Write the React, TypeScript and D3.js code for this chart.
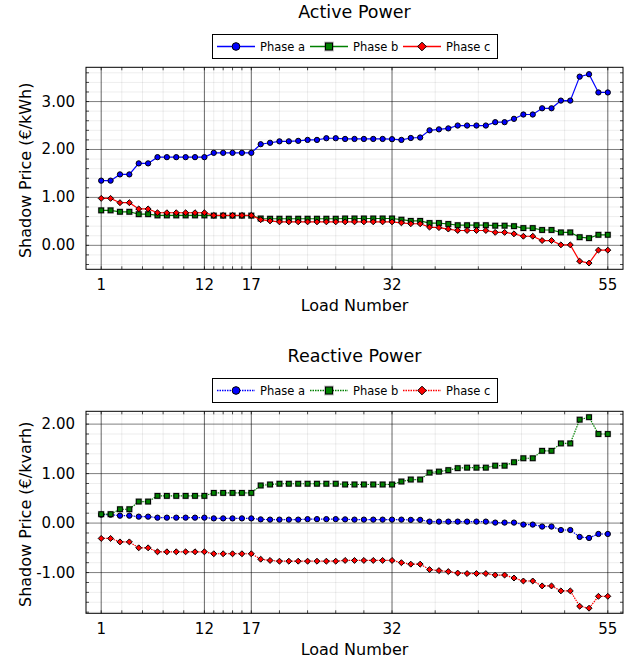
import React, { useEffect, useRef } from 'react';
import * as d3 from 'd3';

// load numbers on the x axis
const loads = d3.range(1, 56);
const xTicks = [1, 12, 17, 32, 55];
const phases = ['Phase a', 'Phase b', 'Phase c'];
const colors = ['#0000ff', '#008000', '#ff0000'];

// active power shadow prices (€/kWh)
const activeA = [1.35, 1.35, 1.48, 1.48, 1.71, 1.71, 1.84, 1.84, 1.84, 1.84, 1.84, 1.84,
  1.93, 1.93, 1.93, 1.93, 1.93, 2.11, 2.14, 2.17, 2.17, 2.18, 2.2, 2.2, 2.235, 2.235,
  2.22, 2.22, 2.22, 2.22, 2.22, 2.215, 2.2, 2.24, 2.25, 2.4, 2.42, 2.44, 2.5, 2.5, 2.5, 2.5,
  2.57, 2.57, 2.64, 2.73, 2.73, 2.86, 2.86, 3.02, 3.02, 3.52, 3.57, 3.19, 3.19];
const activeB = [0.73, 0.73, 0.7, 0.7, 0.65, 0.65, 0.625, 0.625, 0.625, 0.625, 0.625, 0.625,
  0.62, 0.62, 0.62, 0.62, 0.62, 0.56, 0.555, 0.555, 0.555, 0.555, 0.555, 0.555, 0.555, 0.555,
  0.56, 0.56, 0.56, 0.56, 0.56, 0.56, 0.535, 0.51, 0.51, 0.465, 0.465, 0.445, 0.42, 0.42, 0.42, 0.42,
  0.41, 0.41, 0.4, 0.36, 0.36, 0.32, 0.32, 0.27, 0.27, 0.17, 0.15, 0.22, 0.22];
const activeC = [0.98, 0.98, 0.89, 0.89, 0.76, 0.76, 0.68, 0.68, 0.68, 0.68, 0.68, 0.68,
  0.625, 0.625, 0.625, 0.625, 0.625, 0.535, 0.51, 0.49, 0.49, 0.49, 0.49, 0.49, 0.49, 0.49,
  0.49, 0.49, 0.49, 0.49, 0.49, 0.49, 0.47, 0.45, 0.45, 0.38, 0.37, 0.34, 0.31, 0.31, 0.31, 0.31,
  0.27, 0.27, 0.24, 0.19, 0.19, 0.1, 0.1, 0.01, 0.01, -0.33, -0.37, -0.1, -0.1];

// reactive power shadow prices (€/kvarh)
const reactiveA = [0.17, 0.17, 0.15, 0.15, 0.13, 0.13, 0.11, 0.11, 0.11, 0.11, 0.11, 0.11,
  0.095, 0.095, 0.095, 0.095, 0.095, 0.075, 0.07, 0.07, 0.07, 0.07, 0.08, 0.08, 0.08, 0.08,
  0.075, 0.07, 0.07, 0.07, 0.07, 0.07, 0.07, 0.065, 0.065, 0.03, 0.03, 0.03, 0.03, 0.03, 0.03, 0.03,
  0.01, 0.01, 0.01, -0.03, -0.03, -0.07, -0.07, -0.14, -0.14, -0.28, -0.3, -0.22, -0.22];
const reactiveB = [0.18, 0.18, 0.28, 0.28, 0.435, 0.435, 0.55, 0.55, 0.55, 0.55, 0.55, 0.55,
  0.61, 0.61, 0.61, 0.61, 0.61, 0.76, 0.78, 0.795, 0.795, 0.795, 0.795, 0.795, 0.795, 0.795,
  0.78, 0.78, 0.78, 0.78, 0.78, 0.78, 0.84, 0.88, 0.88, 1.02, 1.04, 1.07, 1.11, 1.12, 1.12, 1.12,
  1.16, 1.16, 1.23, 1.31, 1.31, 1.46, 1.46, 1.61, 1.61, 2.09, 2.14, 1.8, 1.8];
const reactiveC = [-0.31, -0.31, -0.38, -0.38, -0.5, -0.5, -0.58, -0.58, -0.58, -0.58, -0.58, -0.58,
  -0.62, -0.62, -0.62, -0.62, -0.62, -0.73, -0.755, -0.77, -0.77, -0.77, -0.77, -0.77, -0.77, -0.77,
  -0.755, -0.755, -0.755, -0.755, -0.755, -0.755, -0.8, -0.83, -0.83, -0.94, -0.96, -0.98, -1.01, -1.02, -1.02, -1.02,
  -1.05, -1.05, -1.11, -1.17, -1.17, -1.27, -1.27, -1.37, -1.37, -1.68, -1.72, -1.48, -1.48];

const activeTicks = [0, 1, 2, 3];
const reactiveTicks = [-1, 0, 1, 2];

const FONT = 'DejaVu Sans, sans-serif';

function drawMarker(g, kind, cx, cy, s, color) {
  if (kind === 0) {
    g.append('circle').attr('cx', cx).attr('cy', cy).attr('r', s * 0.55)
      .attr('fill', color).attr('stroke', '#000').attr('stroke-width', 1);
  } else if (kind === 1) {
    g.append('rect').attr('x', cx - s * 0.7).attr('y', cy - s * 0.7)
      .attr('width', s * 1.4).attr('height', s * 1.4)
      .attr('fill', '#000').attr('opacity', 0.25);
    g.append('rect').attr('x', cx - s / 2).attr('y', cy - s / 2)
      .attr('width', s).attr('height', s)
      .attr('fill', color).attr('stroke', '#000').attr('stroke-width', 1);
  } else {
    const h = s * 0.62;
    g.append('path')
      .attr('d', `M${cx},${cy - h}L${cx + h},${cy}L${cx},${cy + h}L${cx - h},${cy}Z`)
      .attr('fill', color).attr('stroke', '#000').attr('stroke-width', 1);
  }
}

function plot(chart, opts) {
  const left = 86, right = 623, top = 67.3, bottom = 269.3;

  const x = d3.scaleLinear().domain([1 - 1.62, 55 + 1.62]).range([left, right]);
  const y = d3.scaleLinear().domain(opts.yDomain).range([bottom, top]);

  // minor grid: five divisions between major ticks
  const xMinor = [];
  for (let i = 0; i < xTicks.length - 1; i++) {
    const a = xTicks[i], b = xTicks[i + 1];
    for (let k = 1; k < 5; k++) xMinor.push(a + (b - a) * k / 5);
  }
  const yMinor = d3.range(Math.ceil(opts.yDomain[0] * 5), Math.floor(opts.yDomain[1] * 5) + 1)
    .map(d => d / 5)
    .filter(d => Math.abs(d - Math.round(d)) > 1e-6);

  chart.append('rect').attr('x', left).attr('y', top)
    .attr('width', right - left).attr('height', bottom - top).attr('fill', '#fff');

  const grid = chart.append('g');
  grid.selectAll('.xminor').data(xMinor).enter().append('line')
    .attr('x1', d => x(d)).attr('x2', d => x(d)).attr('y1', top).attr('y2', bottom)
    .attr('stroke', '#000').attr('stroke-opacity', 0.07);
  grid.selectAll('.yminor').data(yMinor).enter().append('line')
    .attr('y1', d => y(d)).attr('y2', d => y(d)).attr('x1', left).attr('x2', right)
    .attr('stroke', '#000').attr('stroke-opacity', 0.07);
  grid.selectAll('.xmajor').data(xTicks).enter().append('line')
    .attr('x1', d => x(d)).attr('x2', d => x(d)).attr('y1', top).attr('y2', bottom)
    .attr('stroke', '#000').attr('stroke-opacity', 0.6);
  grid.selectAll('.ymajor').data(opts.yTicks).enter().append('line')
    .attr('y1', d => y(d)).attr('y2', d => y(d)).attr('x1', left).attr('x2', right)
    .attr('stroke', '#000').attr('stroke-opacity', 0.5);

  // tick marks on every side of the box
  const ticks = chart.append('g').attr('stroke', '#000').attr('stroke-opacity', 0.7);
  [...xMinor, ...xTicks].forEach(d => {
    ticks.append('line').attr('x1', x(d)).attr('x2', x(d)).attr('y1', bottom).attr('y2', bottom - 3);
    ticks.append('line').attr('x1', x(d)).attr('x2', x(d)).attr('y1', top).attr('y2', top + 3);
  });
  [...yMinor, ...opts.yTicks].forEach(d => {
    ticks.append('line').attr('y1', y(d)).attr('y2', y(d)).attr('x1', left).attr('x2', left + 3);
    ticks.append('line').attr('y1', y(d)).attr('y2', y(d)).attr('x1', right).attr('x2', right - 3);
  });

  // series
  const line = d3.line().x((d, i) => x(loads[i])).y(d => y(d));
  opts.series.forEach((values, s) => {
    chart.append('path')
      .datum(values)
      .attr('d', line)
      .attr('fill', 'none')
      .attr('stroke', colors[s])
      .attr('stroke-width', 1.2)
      .attr('stroke-dasharray', opts.dotted ? '1.5,1' : null);
    const mg = chart.append('g');
    values.forEach((v, i) => drawMarker(mg, s, x(loads[i]), y(v), 4.8, colors[s]));
  });

  chart.append('rect').attr('x', left).attr('y', top)
    .attr('width', right - left).attr('height', bottom - top)
    .attr('fill', 'none').attr('stroke', '#000').attr('stroke-width', 1);

  // tick labels
  chart.selectAll('.xlab').data(xTicks).enter().append('text')
    .attr('x', d => x(d)).attr('y', bottom + 16)
    .attr('text-anchor', 'middle').attr('dominant-baseline', 'central')
    .style('font-size', '15px').text(d => d);
  chart.selectAll('.ylab').data(opts.yTicks).enter().append('text')
    .attr('x', 75).attr('y', d => y(d))
    .attr('text-anchor', 'end').attr('dominant-baseline', 'central')
    .style('font-size', '15px').text(d => d.toFixed(2));

  chart.append('text')
    .attr('x', (left + right) / 2).attr('y', bottom + 36)
    .attr('text-anchor', 'middle').attr('dominant-baseline', 'central')
    .style('font-size', '16px').text('Load Number');
  chart.append('text')
    .attr('transform', `translate(25,${(top + bottom) / 2 + 2}) rotate(-90)`)
    .attr('text-anchor', 'middle').attr('dominant-baseline', 'central')
    .style('font-size', '16px').text(opts.ylabel);

  chart.append('text')
    .attr('x', (left + right) / 2).attr('y', 12)
    .attr('text-anchor', 'middle').attr('dominant-baseline', 'central')
    .style('font-size', '17.5px').text(opts.title);

  // legend
  const lg = chart.append('g');
  lg.append('rect').attr('x', 212.5).attr('y', 34.5).attr('width', 285).attr('height', 24)
    .attr('fill', '#fff').attr('stroke', '#000').attr('stroke-width', 1);
  const lineX = [217, 310, 403];
  phases.forEach((p, i) => {
    lg.append('line').attr('x1', lineX[i]).attr('x2', lineX[i] + 38)
      .attr('y1', 46.5).attr('y2', 46.5)
      .attr('stroke', colors[i]).attr('stroke-width', 1.5)
      .attr('stroke-dasharray', opts.dotted ? '1.5,1' : null);
    drawMarker(lg, i, lineX[i] + 19, 46.5, 7, colors[i]);
    lg.append('text').attr('x', lineX[i] + 43).attr('y', 46.5)
      .attr('dominant-baseline', 'central').style('font-size', '11.5px').text(p);
  });
}

export default function App() {
  const ref = useRef(null);

  useEffect(() => {
    const svg = d3.select(ref.current);
    svg.selectAll('*').remove();
    svg.style('font-family', FONT);

    plot(svg.append('g'), {
      title: 'Active Power',
      ylabel: 'Shadow Price (€/kWh)',
      series: [activeA, activeB, activeC],
      yDomain: [-0.5, 3.715],
      yTicks: activeTicks,
      dotted: false,
    });
    plot(svg.append('g').attr('transform', 'translate(0,344)'), {
      title: 'Reactive Power',
      ylabel: 'Shadow Price (€/kvarh)',
      series: [reactiveA, reactiveB, reactiveC],
      yDomain: [-1.823, 2.259],
      yTicks: reactiveTicks,
      dotted: true,
    });
  }, []);

  return (
    <svg ref={ref} width={643} height={663}
      style={{ position: 'absolute', left: 0, top: 0, background: '#fff' }} />
  );
}
